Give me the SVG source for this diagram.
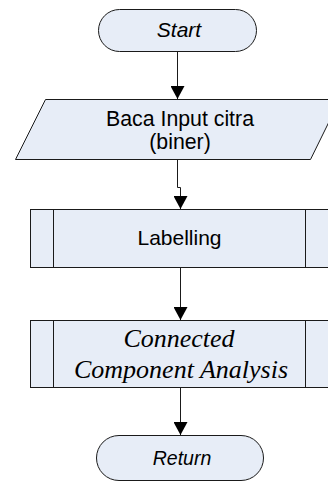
<svg xmlns="http://www.w3.org/2000/svg" width="328" height="482" viewBox="0 0 328 482">
<style>
.shape{fill:#E7EDF7;stroke:#1a1a1a;stroke-width:1}
.conn{fill:none;stroke:#1a1a1a;stroke-width:1}
.sans{font-family:"Liberation Sans",Arial,sans-serif;fill:#000;text-anchor:middle}
.serif{font-family:"Liberation Serif","Times New Roman",serif;font-style:italic;fill:#000;text-anchor:middle}
</style>
<defs>
<marker id="arrow" markerUnits="userSpaceOnUse" markerWidth="14" markerHeight="14" refX="13" refY="7" orient="auto">
<path d="M0,0 L13,7 L0,14 Z" fill="#000"/>
</marker>
</defs>
<rect width="328" height="482" fill="#fff"/>
<g id="connectors">
<path class="conn" d="M177.5,52 V99" marker-end="url(#arrow)"/>
<path class="conn" d="M177.5,159.5 V187.5 H180.5 V209" marker-end="url(#arrow)"/>
<path class="conn" d="M180.5,267.5 V320" marker-end="url(#arrow)"/>
<path class="conn" d="M180.5,387.5 V435" marker-end="url(#arrow)"/>
</g>
<g id="start">
<rect class="shape" x="98.5" y="9.5" width="158" height="42" rx="21" ry="21"/>
<text class="sans" x="179" y="37" font-size="21" font-style="italic">Start</text>
</g>
<g id="input">
<polygon class="shape" points="45.5,99.5 340,99.5 310.5,159.5 15.5,159.5"/>
<text class="sans" x="180" y="126" font-size="21.3">Baca Input citra</text>
<text class="sans" x="180" y="149" font-size="21.3">(biner)</text>
</g>
<g id="labelling">
<rect class="shape" x="30.5" y="209.5" width="320" height="58"/>
<line class="conn" x1="53.5" y1="209.5" x2="53.5" y2="267.5"/>
<line class="conn" x1="305.5" y1="209.5" x2="305.5" y2="267.5"/>
<text class="sans" x="179.5" y="245" font-size="21">Labelling</text>
</g>
<g id="cca">
<rect class="shape" x="30.5" y="320.5" width="320" height="67"/>
<line class="conn" x1="53.5" y1="320.5" x2="53.5" y2="387.5"/>
<line class="conn" x1="305.5" y1="320.5" x2="305.5" y2="387.5"/>
<text class="serif" x="179" y="347" font-size="26">Connected</text>
<text class="serif" x="181" y="378" font-size="26">Component Analysis</text>
</g>
<g id="return">
<rect class="shape" x="96.5" y="435.5" width="167" height="45" rx="22.5" ry="22.5"/>
<text class="sans" x="182" y="465" font-size="19.5" font-style="italic">Return</text>
</g>
</svg>
